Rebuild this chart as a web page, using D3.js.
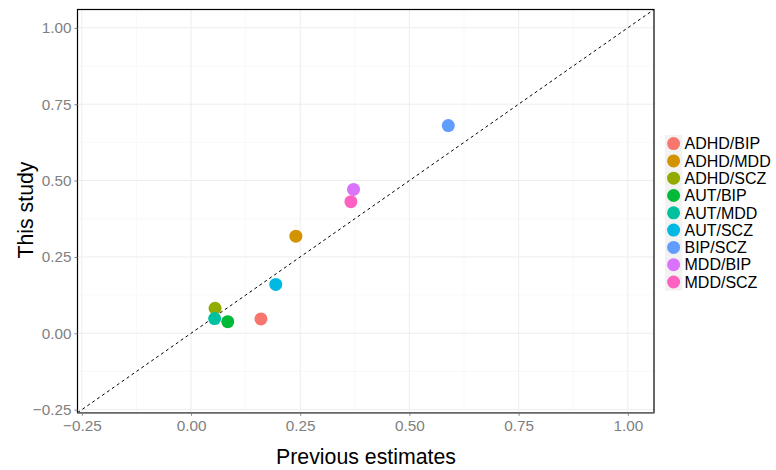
<!DOCTYPE html>
<html><head><meta charset="utf-8">
<script src="https://cdn.jsdelivr.net/npm/d3@7"></script>
<style>body{margin:0;background:#fff}svg{display:block}text{font-family:"Liberation Sans",Arial,Helvetica,sans-serif}</style>
</head><body>
<script>
const pairs = ["ADHD/BIP","ADHD/MDD","ADHD/SCZ","AUT/BIP","AUT/MDD","AUT/SCZ","BIP/SCZ","MDD/BIP","MDD/SCZ"];
const previous = [0.16, 0.24, 0.055, 0.084, 0.054, 0.194, 0.589, 0.372, 0.366];
const thisStudy = [0.047, 0.318, 0.082, 0.038, 0.048, 0.16, 0.68, 0.471, 0.431];
const colors = ["#F8766D","#D39200","#93AA00","#00BA38","#00C19F","#00B9E3","#619CFF","#DB72FB","#FF61C3"];
const majorTicks = [-0.25, 0, 0.25, 0.5, 0.75, 1];
const minorTicks = [-0.125, 0.125, 0.375, 0.625, 0.875];

const W = 776, H = 470;
const L = 77.5, R = 654, T = 9.5, B = 412.7;
const svg = d3.select("body").append("svg").attr("width", W).attr("height", H);
const x = d3.scaleLinear().domain([-0.26, 1.06]).range([L, R]);
const y = d3.scaleLinear().domain([-0.26, 1.06]).range([B, T]);

const grid = svg.append("g");
minorTicks.forEach(v => {
  grid.append("line").attr("x1", x(v)).attr("x2", x(v)).attr("y1", T).attr("y2", B).attr("stroke", "#f5f5f5").attr("stroke-width", 0.6);
  grid.append("line").attr("y1", y(v)).attr("y2", y(v)).attr("x1", L).attr("x2", R).attr("stroke", "#f5f5f5").attr("stroke-width", 0.6);
});
majorTicks.forEach(v => {
  grid.append("line").attr("x1", x(v)).attr("x2", x(v)).attr("y1", T).attr("y2", B).attr("stroke", "#ededed").attr("stroke-width", 1);
  grid.append("line").attr("y1", y(v)).attr("y2", y(v)).attr("x1", L).attr("x2", R).attr("stroke", "#ededed").attr("stroke-width", 1);
});

// diagonal
svg.append("line").attr("x1", x(-0.26)).attr("y1", y(-0.26)).attr("x2", x(1.06)).attr("y2", y(1.06))
  .attr("stroke", "#000").attr("stroke-width", 1).attr("stroke-dasharray", "3,3");

// points
svg.append("g").selectAll("circle").data(pairs).join("circle")
  .attr("cx", (d, i) => x(previous[i])).attr("cy", (d, i) => y(thisStudy[i]))
  .attr("r", 6.5).attr("fill", (d, i) => colors[i]);

// border
svg.append("rect").attr("x", L).attr("y", T).attr("width", R - L).attr("height", B - T)
  .attr("fill", "none").attr("stroke", "#000").attr("stroke-width", 1.2);
svg.append("line").attr("x1", L).attr("x2", R).attr("y1", B).attr("y2", B).attr("stroke", "#666").attr("stroke-width", 1.6);

// axes
const fmt = d3.format(".2f");
const xa = svg.append("g").attr("transform", `translate(0,${B})`)
  .call(d3.axisBottom(x).tickValues(majorTicks).tickFormat(d => fmt(d).replace("-", "\u2212")).tickSize(3).tickPadding(4));
const ya = svg.append("g").attr("transform", `translate(${L},0)`)
  .call(d3.axisLeft(y).tickValues(majorTicks).tickFormat(d => fmt(d).replace("-", "\u2212")).tickSize(3).tickPadding(3));
[xa, ya].forEach(a => {
  a.select(".domain").remove();
  a.selectAll(".tick line").attr("stroke", "#7f7f7f");
  a.selectAll(".tick text").attr("fill", "#808080").attr("font-size", 15.3);
});

svg.append("text").attr("x", 366).attr("y", 464).attr("text-anchor", "middle")
  .attr("font-size", 21.3).attr("fill", "#000").text("Previous estimates");
svg.append("text").attr("transform", `translate(33,210) rotate(-90)`).attr("text-anchor", "middle")
  .attr("font-size", 21.3).attr("fill", "#000").text("This study");

// legend
const lg = svg.append("g").attr("transform", "translate(665,135)");
const row = lg.selectAll("g").data(pairs).join("g").attr("transform", (d, i) => `translate(0,${i * 17.3})`);
row.append("rect").attr("width", 17.3).attr("height", 17.3).attr("fill", "#f2f2f2");
row.append("circle").attr("cx", 8.6).attr("cy", 8.6).attr("r", 6.5).attr("fill", (d, i) => colors[i]);
row.append("text").attr("x", 19.5).attr("y", 8.6).attr("dy", "0.36em").attr("font-size", 16).attr("fill", "#000").text(d => d);
</script>
</body></html>
